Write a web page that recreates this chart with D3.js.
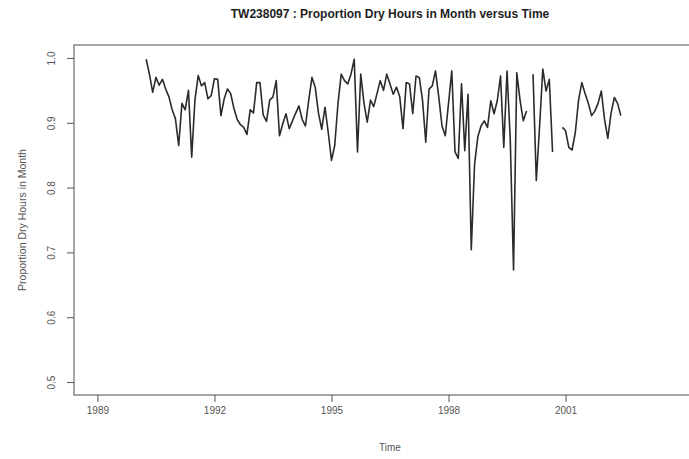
<!DOCTYPE html>
<html>
<head>
<meta charset="utf-8">
<script src="https://cdn.jsdelivr.net/npm/d3@7"></script>
<style>
  body { margin: 0; background: #fff; }
  svg { display: block; }
  text { font-family: "Liberation Sans", Arial, Helvetica, sans-serif; }
</style>
</head>
<body>
<svg id="chart" width="689" height="459"></svg>
<script>
// Monthly series, first observation April 1990
const seriesStart = 1990.25;
const dryProportion = [
  0.998, 0.975, 0.947, 0.970, 0.958, 0.967, 0.952, 0.940, 0.920, 0.906,
  0.865, 0.930, 0.920, 0.950, 0.847, 0.935, 0.973, 0.957, 0.962, 0.937,
  0.942, 0.968, 0.967, 0.911, 0.937, 0.952, 0.945, 0.922, 0.905, 0.897,
  0.893, 0.882, 0.920, 0.915, 0.962, 0.962, 0.912, 0.902, 0.935, 0.940,
  0.965, 0.880, 0.898, 0.914, 0.891, 0.903, 0.915, 0.926, 0.905, 0.895,
  0.935, 0.970, 0.955, 0.915, 0.890, 0.924, 0.885, 0.842, 0.865, 0.930,
  0.975, 0.965, 0.960, 0.975, 0.998, 0.855, 0.975, 0.930, 0.901, 0.935,
  0.925, 0.945, 0.965, 0.950, 0.975, 0.960, 0.944, 0.955, 0.940, 0.891,
  0.962, 0.960, 0.914, 0.972, 0.970, 0.935, 0.870, 0.952, 0.957, 0.980,
  0.940, 0.895, 0.880, 0.930, 0.980, 0.855, 0.845, 0.960, 0.857, 0.944,
  0.704, 0.835, 0.878, 0.895, 0.903, 0.893, 0.934, 0.914, 0.934, 0.972,
  0.862, 0.980, 0.873, 0.673, 0.977, 0.935, 0.903, 0.918, null,  0.975,
  0.811, 0.893, 0.983, 0.949, 0.967, 0.855, null,  null,  0.893, 0.888,
  0.862, 0.858, 0.885, 0.935, 0.962, 0.945, 0.930, 0.911, 0.918, 0.930,
  0.949, 0.905, 0.876, 0.915, 0.939, 0.930, 0.911
];

const xLimits = [1989, 2004];
const yLimits = [0.5, 1.0];
const xTicks = [1989, 1992, 1995, 1998, 2001];
const yTicks = [0.5, 0.6, 0.7, 0.8, 0.9, 1.0];

const chartTitle = "TW238097 : Proportion Dry Hours in Month versus Time";
const xTitle = "Time";
const yTitle = "Proportion Dry Hours in Month";

const svg = d3.select("#chart");
const plot = { left: 74, right: 706, top: 45, bottom: 395 };
const labelGrey = "#555555";

// Axis ranges padded by 4% on each side
function padded(lim) {
  const d = (lim[1] - lim[0]) * 0.04;
  return [lim[0] - d, lim[1] + d];
}

const x = d3.scaleLinear().domain(padded(xLimits)).range([plot.left, plot.right]);
const y = d3.scaleLinear().domain(padded(yLimits)).range([plot.bottom, plot.top]);

const points = dryProportion.map((v, i) => ({ t: seriesStart + i / 12, v }));

// Title
svg.append("text")
  .attr("x", (plot.left + plot.right) / 2)
  .attr("y", 18)
  .attr("text-anchor", "middle")
  .attr("font-size", 12)
  .attr("font-weight", "bold")
  .style("fill", "#1e1e1e")
  .text(chartTitle);

// Plot frame
svg.append("rect")
  .attr("x", plot.left)
  .attr("y", plot.top)
  .attr("width", plot.right - plot.left)
  .attr("height", plot.bottom - plot.top)
  .attr("fill", "none")
  .attr("stroke", "#6a6a6a")
  .attr("stroke-width", 1.2);

// X axis
const xAxis = svg.append("g")
  .attr("transform", `translate(0,${plot.bottom})`)
  .call(d3.axisBottom(x).tickValues(xTicks).tickSize(7).tickPadding(5).tickFormat(d3.format("d")));
xAxis.select(".domain").remove();
xAxis.selectAll("line").attr("stroke", labelGrey);
xAxis.selectAll("text")
  .attr("font-size", 10)
  .attr("font-family", "Liberation Sans, Arial, sans-serif")
  .style("fill", labelGrey);

// Y axis with labels parallel to the axis
const yAxis = svg.append("g")
  .attr("transform", `translate(${plot.left},0)`)
  .call(d3.axisLeft(y).tickValues(yTicks).tickSize(7).tickFormat(d3.format(".1f")));
yAxis.select(".domain").remove();
yAxis.selectAll("line").attr("stroke", labelGrey);
yAxis.selectAll("text")
  .attr("x", 0)
  .attr("dy", 0)
  .attr("transform", "translate(-19,0) rotate(-90)")
  .attr("text-anchor", "middle")
  .attr("font-size", 10)
  .attr("font-family", "Liberation Sans, Arial, sans-serif")
  .style("fill", labelGrey);

// Axis titles
svg.append("text")
  .attr("x", (plot.left + plot.right) / 2)
  .attr("y", 451)
  .attr("text-anchor", "middle")
  .attr("font-size", 10)
  .style("fill", labelGrey)
  .text(xTitle);

svg.append("text")
  .attr("transform", `translate(26,${(plot.top + plot.bottom) / 2}) rotate(-90)`)
  .attr("text-anchor", "middle")
  .attr("font-size", 10.5)
  .style("fill", labelGrey)
  .text(yTitle);

// Series line, broken where months are missing
const line = d3.line()
  .defined(d => d.v != null)
  .x(d => x(d.t))
  .y(d => y(d.v));

svg.append("path")
  .datum(points)
  .attr("d", line)
  .attr("fill", "none")
  .attr("stroke", "#2b2b2b")
  .attr("stroke-width", 1.6)
  .attr("stroke-linejoin", "round");
</script>
</body>
</html>
